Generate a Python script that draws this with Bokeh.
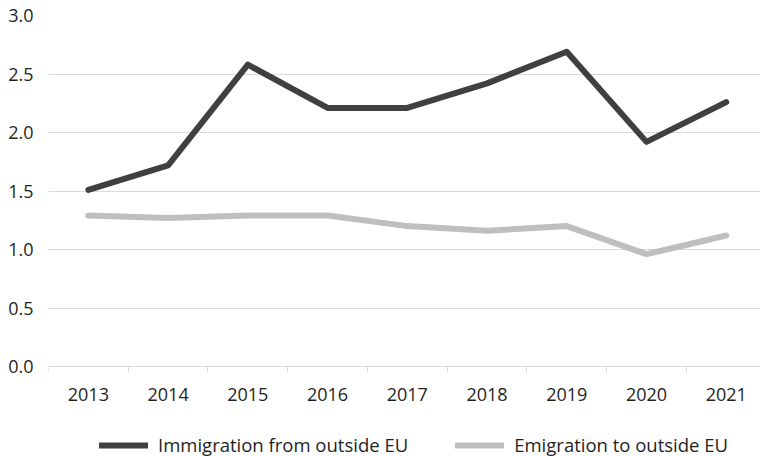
from bokeh.plotting import figure
from bokeh.models import (Range1d, FixedTicker, Legend, LegendItem,
                          PrintfTickFormatter, ColumnDataSource)
from bokeh.embed import file_html
from bokeh.resources import INLINE

years = [2013, 2014, 2015, 2016, 2017, 2018, 2019, 2020, 2021]
immigration = [1.51, 1.72, 2.58, 2.21, 2.21, 2.42, 2.69, 1.92, 2.26]
emigration = [1.29, 1.27, 1.29, 1.29, 1.20, 1.16, 1.20, 0.96, 1.12]
y_ticks = [0.0, 0.5, 1.0, 1.5, 2.0, 2.5, 3.0]
series_names = ["Immigration from outside EU", "Emigration to outside EU"]

FONT = "Open Sans"
TEXT = "#1f1f1f"
GRID = "#d9d9d9"

src = ColumnDataSource(dict(year=years, imm=immigration, emi=emigration))

# frame extends below y=0 so the axis labels and legend sit inside it
p = figure(width=760, height=456, output_backend="svg", toolbar_location=None,
           x_range=Range1d(years[0] - 0.5, years[0] - 0.5 + 8.93),
           y_range=Range1d(-0.769, y_ticks[-1]),
           min_border_left=48, min_border_right=0, min_border_top=15,
           min_border_bottom=0)
p.outline_line_color = None
p.background_fill_color = "white"
p.border_fill_color = "white"

r1 = p.line("year", "imm", source=src, line_color="#404040", line_width=6,
            line_join="round", line_cap="round")
r2 = p.line("year", "emi", source=src, line_color="#bfbfbf", line_width=6,
            line_join="round", line_cap="round")

# x axis at y=0: labels at year centres, tick marks at category boundaries
xa = p.xaxis[0]
xa.fixed_location = 0
boundaries = [y - 0.5 for y in years] + [years[-1] + 0.5]
xa.ticker = FixedTicker(ticks=years, minor_ticks=boundaries)
xa.axis_line_color = GRID
xa.major_tick_line_color = None
xa.major_tick_out = 0
xa.major_tick_in = 0
xa.minor_tick_line_color = GRID
xa.minor_tick_out = 6
xa.minor_tick_in = 0
xa.major_label_text_font = FONT
xa.major_label_text_font_size = "18px"
xa.major_label_text_color = TEXT
xa.major_label_standoff = 15
p.xgrid.grid_line_color = None

ya = p.yaxis[0]
ya.ticker = FixedTicker(ticks=y_ticks)
ya.formatter = PrintfTickFormatter(format="%.1f")
ya.axis_line_color = None
ya.major_tick_line_color = None
ya.minor_tick_line_color = None
ya.major_tick_out = 0
ya.major_tick_in = 0
ya.major_label_text_font = FONT
ya.major_label_text_font_size = "18px"
ya.major_label_text_color = TEXT
ya.major_label_standoff = 15
p.ygrid.ticker = FixedTicker(ticks=y_ticks)
p.ygrid.grid_line_color = GRID
p.ygrid.grid_line_width = 1

legend = Legend(items=[LegendItem(label=series_names[0], renderers=[r1]),
                       LegendItem(label=series_names[1], renderers=[r2])],
                orientation="horizontal", location=(51, -1),
                label_text_font=FONT, label_text_font_size="18.5px",
                label_text_color=TEXT, glyph_width=49, glyph_height=18,
                label_standoff=10, spacing=47, border_line_color=None,
                background_fill_alpha=0, padding=0, margin=0)
p.add_layout(legend, "center")

open("out.html", "w").write(file_html(p, INLINE))
